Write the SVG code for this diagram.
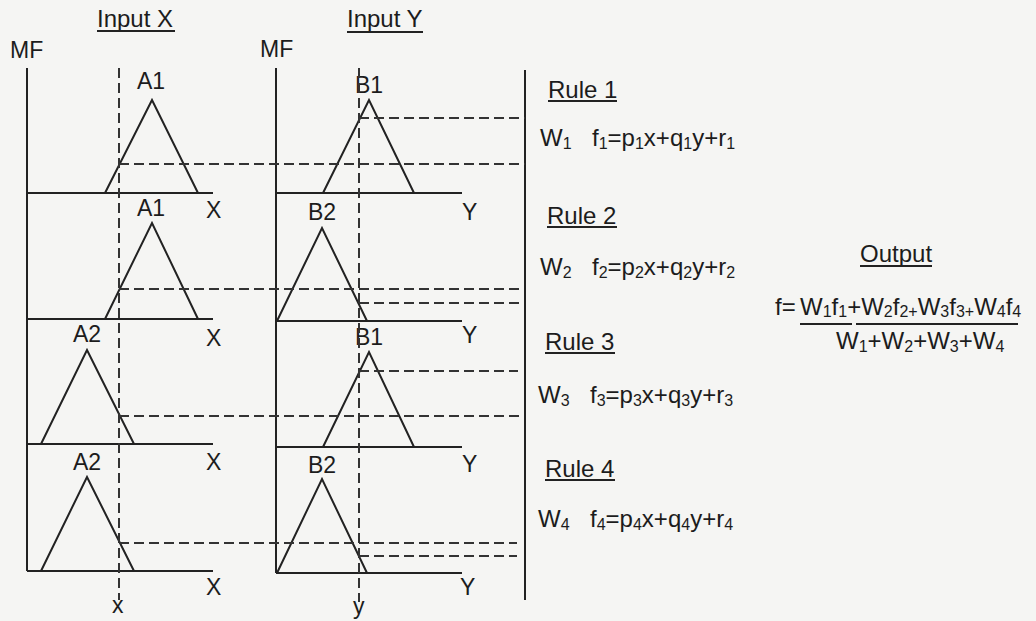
<svg xmlns="http://www.w3.org/2000/svg" width="1036" height="621" viewBox="0 0 1036 621">
<style>
.ln{stroke:#222;stroke-width:2;fill:none;stroke-linejoin:miter}
.dl{stroke:#333;stroke-width:2;fill:none;stroke-dasharray:10 5}
text{font-family:"Liberation Sans",Arial,sans-serif;fill:#1c1c1c}
.t23{font-size:23px}
.t24{font-size:24px}
.sub{font-size:16px}
</style>
<rect width="1036" height="621" fill="#f5f5f3"/>

<g id="headers">
  <text class="t24" x="97" y="27">Input X</text>
  <line class="ln" x1="97" y1="31" x2="175" y2="31" stroke-width="1.5"/>
  <text class="t24" x="347" y="27">Input Y</text>
  <line class="ln" x1="347" y1="32" x2="423" y2="32" stroke-width="1.5"/>
  <text class="t23" x="10" y="58">MF</text>
  <text class="t23" x="260" y="57">MF</text>
</g>

<g id="panel-x">
  <line class="ln" x1="27" y1="68" x2="27" y2="571"/>
  <line class="ln" x1="27" y1="193" x2="213" y2="193"/>
  <line class="ln" x1="27" y1="319" x2="213" y2="319"/>
  <line class="ln" x1="27" y1="444" x2="213" y2="444"/>
  <line class="ln" x1="27" y1="571" x2="213" y2="571"/>
  <polyline class="ln" points="105,193 152,100 198,193"/>
  <polyline class="ln" points="105,319 152,223 198,319"/>
  <polyline class="ln" points="41,444 87,350 134,444"/>
  <polyline class="ln" points="41,571 87,477 134,571"/>
  <text class="t23" x="137" y="89">A1</text>
  <text class="t23" x="137" y="216">A1</text>
  <text class="t23" x="73" y="342">A2</text>
  <text class="t23" x="73" y="470">A2</text>
  <text class="t23" x="206" y="218">X</text>
  <text class="t23" x="206" y="346">X</text>
  <text class="t23" x="206" y="470">X</text>
  <text class="t23" x="206" y="595">X</text>
  <text class="t23" x="112" y="613">x</text>
</g>

<g id="panel-y">
  <line class="ln" x1="276" y1="68" x2="276" y2="573"/>
  <line class="ln" x1="276" y1="193" x2="462" y2="193"/>
  <line class="ln" x1="276" y1="321" x2="462" y2="321"/>
  <line class="ln" x1="276" y1="447" x2="462" y2="447"/>
  <line class="ln" x1="276" y1="573" x2="462" y2="573"/>
  <polyline class="ln" points="323,193 369,100 414,193"/>
  <polyline class="ln" points="277,321 322,228 367,321"/>
  <polyline class="ln" points="323,447 369,352 414,447"/>
  <polyline class="ln" points="277,573 322,479 367,573"/>
  <text class="t23" x="355" y="93">B1</text>
  <text class="t23" x="308" y="220">B2</text>
  <text class="t23" x="355" y="345">B1</text>
  <text class="t23" x="308" y="473">B2</text>
  <text class="t23" x="462" y="220">Y</text>
  <text class="t23" x="462" y="343">Y</text>
  <text class="t23" x="462" y="472">Y</text>
  <text class="t23" x="460" y="595">Y</text>
  <text class="t23" x="353" y="614">y</text>
</g>

<g id="divider">
  <line class="ln" x1="525" y1="70" x2="525" y2="600"/>
</g>

<g id="connectors">
  <line class="dl" x1="119" y1="68" x2="119" y2="600"/>
  <line class="dl" x1="359" y1="68" x2="359" y2="602"/>
  <line class="dl" x1="119" y1="164" x2="525" y2="164"/>
  <line class="dl" x1="359" y1="118" x2="525" y2="118"/>
  <line class="dl" x1="119" y1="289" x2="523" y2="289"/>
  <line class="dl" x1="359" y1="303" x2="523" y2="303"/>
  <line class="dl" x1="119" y1="416" x2="522" y2="416"/>
  <line class="dl" x1="359" y1="371" x2="518" y2="371"/>
  <line class="dl" x1="119" y1="543" x2="517" y2="543"/>
  <line class="dl" x1="359" y1="556" x2="517" y2="556"/>
</g>

<g id="rule1">
  <text class="t24" x="548" y="98">Rule 1</text>
  <line class="ln" x1="548" y1="101" x2="617" y2="101" stroke-width="1.5"/>
  <text class="t24" x="540" y="146">W<tspan class="sub" dy="3">1</tspan></text>
  <text class="t24" x="592" y="146">f<tspan class="sub" dy="3">1</tspan><tspan dy="-3">=p</tspan><tspan class="sub" dy="3">1</tspan><tspan dy="-3">x+q</tspan><tspan class="sub" dy="3">1</tspan><tspan dy="-3">y+r</tspan><tspan class="sub" dy="3">1</tspan></text>
</g>
<g id="rule2">
  <text class="t24" x="547" y="224">Rule 2</text>
  <line class="ln" x1="547" y1="227" x2="617" y2="227" stroke-width="1.5"/>
  <text class="t24" x="540" y="275">W<tspan class="sub" dy="3">2</tspan></text>
  <text class="t24" x="592" y="275">f<tspan class="sub" dy="3">2</tspan><tspan dy="-3">=p</tspan><tspan class="sub" dy="3">2</tspan><tspan dy="-3">x+q</tspan><tspan class="sub" dy="3">2</tspan><tspan dy="-3">y+r</tspan><tspan class="sub" dy="3">2</tspan></text>
</g>
<g id="rule3">
  <text class="t24" x="545" y="350">Rule 3</text>
  <line class="ln" x1="545" y1="353" x2="615" y2="353" stroke-width="1.5"/>
  <text class="t24" x="538" y="403">W<tspan class="sub" dy="3">3</tspan></text>
  <text class="t24" x="590" y="403">f<tspan class="sub" dy="3">3</tspan><tspan dy="-3">=p</tspan><tspan class="sub" dy="3">3</tspan><tspan dy="-3">x+q</tspan><tspan class="sub" dy="3">3</tspan><tspan dy="-3">y+r</tspan><tspan class="sub" dy="3">3</tspan></text>
</g>
<g id="rule4">
  <text class="t24" x="545" y="477">Rule 4</text>
  <line class="ln" x1="545" y1="480" x2="615" y2="480" stroke-width="1.5"/>
  <text class="t24" x="538" y="527">W<tspan class="sub" dy="3">4</tspan></text>
  <text class="t24" x="590" y="527">f<tspan class="sub" dy="3">4</tspan><tspan dy="-3">=p</tspan><tspan class="sub" dy="3">4</tspan><tspan dy="-3">x+q</tspan><tspan class="sub" dy="3">4</tspan><tspan dy="-3">y+r</tspan><tspan class="sub" dy="3">4</tspan></text>
</g>

<g id="output">
  <text class="t24" x="860" y="262">Output</text>
  <line class="ln" x1="860" y1="266" x2="932" y2="266" stroke-width="1.5"/>
  <text class="t24" x="775" y="315">f=</text>
  <text class="t24" x="800" y="315">W<tspan class="sub" dy="2">1</tspan><tspan dy="-2">f</tspan><tspan class="sub" dy="2">1</tspan><tspan dy="-2">+W</tspan><tspan class="sub" dy="2">2</tspan><tspan dy="-2">f</tspan><tspan class="sub" dy="2">2+</tspan><tspan dy="-2">W</tspan><tspan class="sub" dy="2">3</tspan><tspan dy="-2">f</tspan><tspan class="sub" dy="2">3+</tspan><tspan dy="-2">W</tspan><tspan class="sub" dy="2">4</tspan><tspan dy="-2">f</tspan><tspan class="sub" dy="2">4</tspan></text>
  <line class="ln" x1="800" y1="324" x2="852" y2="324" stroke-width="1.5"/>
  <line class="ln" x1="856" y1="324" x2="1018" y2="324" stroke-width="1.5"/>
  <text class="t24" x="836" y="349">W<tspan class="sub" dy="3">1</tspan><tspan dy="-3">+W</tspan><tspan class="sub" dy="3">2</tspan><tspan dy="-3">+W</tspan><tspan class="sub" dy="3">3</tspan><tspan dy="-3">+W</tspan><tspan class="sub" dy="3">4</tspan></text>
</g>
</svg>
